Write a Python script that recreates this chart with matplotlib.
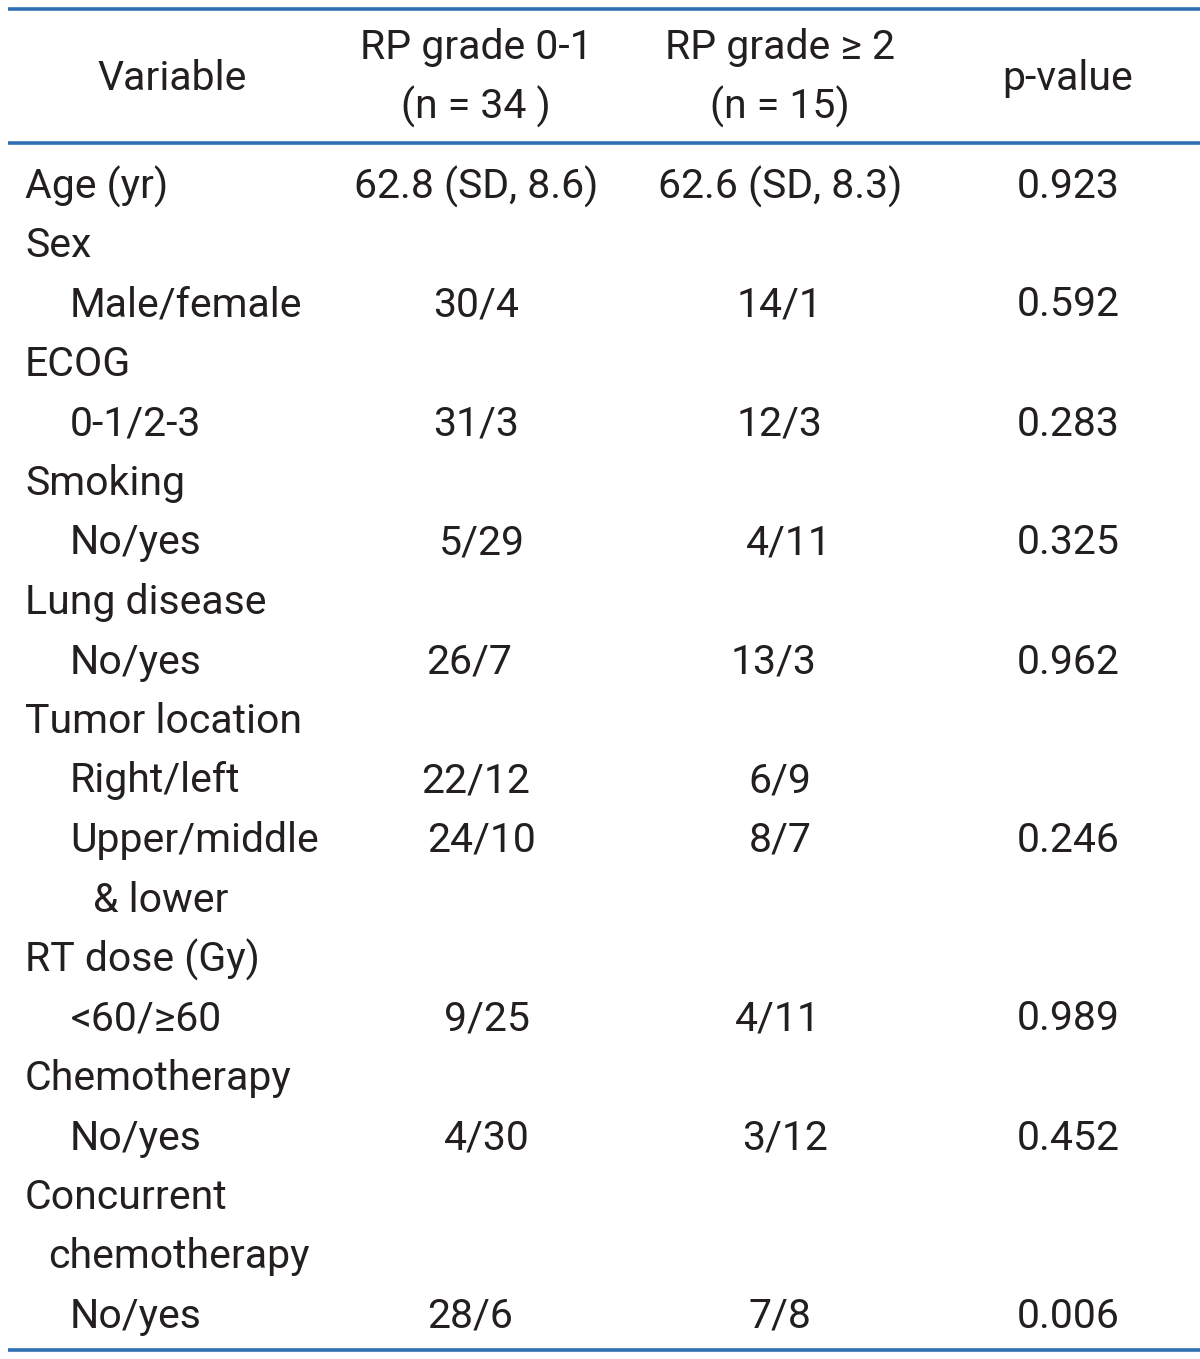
import matplotlib
matplotlib.use("Agg")
import matplotlib.pyplot as plt

# ---- data ----
headers = ["Variable", "RP grade 0-1\n(n = 34 )", "RP grade \u2265 2\n(n = 15)", "p-value"]
row_labels = ["Age (yr)", "Sex", "Male/female", "ECOG", "0-1/2-3", "Smoking", "No/yes",
              "Lung disease", "No/yes", "Tumor location", "Right/left", "Upper/middle",
              "& lower", "RT dose (Gy)", "<60/\u226560", "Chemotherapy", "No/yes",
              "Concurrent", "chemotherapy", "No/yes"]
row_indent = [0, 0, 1, 0, 1, 0, 1, 0, 1, 0, 1, 1, 2, 0, 1, 0, 1, 0, 3, 1]
grade01 = ["62.8 (SD, 8.6)", "", "30/4", "", "31/3", "", "5/29", "", "26/7", "", "22/12",
           "24/10", "", "", "9/25", "", "4/30", "", "", "28/6"]
grade2 = ["62.6 (SD, 8.3)", "", "14/1", "", "12/3", "", "4/11", "", "13/3", "", "6/9",
          "8/7", "", "", "4/11", "", "3/12", "", "", "7/8"]
pvalues = ["0.923", "", "0.592", "", "0.283", "", "0.325", "", "0.962", "", "",
           "0.246", "", "", "0.989", "", "0.452", "", "", "0.006"]

# ---- layout ----
W, H = 1200, 1359
FONT = ["Roboto", "DejaVu Sans"]
FS = 29.5
WEIGHT = "normal"
TXT = "#231f20"
LINE = "#2d6fb0"
indent_x = {0: 25, 1: 70, 2: 93, 3: 48}
col_x = [None, 476, 780, 1068]
off1 = [0, 0, 0, 0, 0, 0, 6, 0, -7, 0, 0, 6, 0, 0, 11, 0, 11, 0, 0, -6]
off2 = [0, 0, 0, 0, 0, 0, 9, 0, -6, 0, 0, 0, 0, 0, -2, 0, 5, 0, 0, 0]
row_y0, row_dy = 182, 59.5

fig = plt.figure(figsize=(W / 100, H / 100), dpi=100)
ax = fig.add_axes([0, 0, 1, 1])
ax.set_xlim(0, W)
ax.set_ylim(H, 0)
ax.axis("off")

for yl in (9, 143, 1350):
    ax.plot([8, W], [yl, yl], color=LINE, lw=2.6, solid_capstyle="butt")

kw = dict(fontsize=FS, family=FONT, color=TXT, fontweight=WEIGHT)
ax.text(172, 78, headers[0], ha="center", va="center", **kw)
ax.text(col_x[1], 78, headers[1], ha="center", va="center", linespacing=1.55, **kw)
ax.text(col_x[2], 78, headers[2], ha="center", va="center", linespacing=1.55, **kw)
ax.text(col_x[3], 78, headers[3], ha="center", va="center", **kw)

for i, lab in enumerate(row_labels):
    y = row_y0 + i * row_dy
    ax.text(indent_x[row_indent[i]], y, lab, ha="left", va="center_baseline", **kw)
    ax.text(col_x[1] + off1[i], y, grade01[i], ha="center", va="center_baseline", **kw)
    ax.text(col_x[2] + off2[i], y, grade2[i], ha="center", va="center_baseline", **kw)
    ax.text(col_x[3], y, pvalues[i], ha="center", va="center_baseline", **kw)

fig.savefig("out.png", dpi=100)
